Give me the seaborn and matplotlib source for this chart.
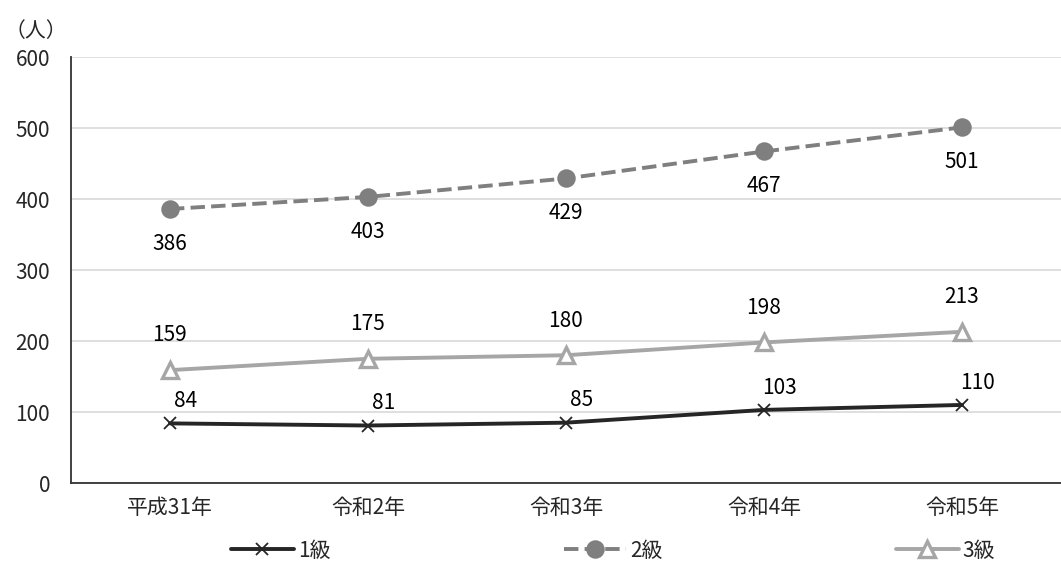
import pandas as pd
import seaborn as sns
import matplotlib.pyplot as plt

# data
years = ['平成31年', '令和2年', '令和3年', '令和4年', '令和5年']
grade1 = [84, 81, 85, 103, 110]
grade2 = [386, 403, 429, 467, 501]
grade3 = [159, 175, 180, 198, 213]
yticks = [0, 100, 200, 300, 400, 500, 600]

sns.set_style('white')
plt.rcParams['font.family'] = ['Noto Sans CJK JP', 'DejaVu Sans']

df = pd.DataFrame({'pos': range(len(years)), '1級': grade1, '2級': grade2, '3級': grade3})

fig = plt.figure(figsize=(10.61, 5.66), dpi=100)
ax = fig.add_axes([0.0669, 0.1466, 0.9331, 0.7526])

FS = 15

# series styles: (column, colour, marker, linestyle, face colour, marker size, label offset)
styles = [
    ('1級', '#262626', 'x', '-', '#262626', 9, (11, 16)),
    ('2級', '#7f7f7f', 'o', '--', '#7f7f7f', 12, (0, -25)),
    ('3級', '#a6a6a6', '^', '-', 'white', 11, (0, 25)),
]

for col, color, marker, ls, mfc, ms, off in styles:
    sns.lineplot(data=df, x='pos', y=col, ax=ax, color=color, linewidth=2.8,
                 linestyle=ls, marker=marker, markersize=ms,
                 markerfacecolor=mfc, markeredgecolor=color,
                 markeredgewidth=2.4 if marker == '^' else 1.3, label=col)
    for x, y in zip(df['pos'], df[col]):
        ax.annotate(str(y), (x, y), xytext=off, textcoords='offset points',
                    ha='center', va='center', fontsize=FS, color='black')

ax.set_xlim(-0.5, 4.5)
ax.set_ylim(0, 600)
ax.set_yticks(yticks)
ax.set_yticklabels([str(t) for t in yticks], fontsize=FS)
ax.yaxis.grid(True, color='#d9d9d9', linewidth=1.2)
ax.set_axisbelow(True)

# boundary ticks between categories, labels at centres
ax.set_xticks([i + 0.5 for i in range(len(years) - 1)])
ax.set_xticklabels([])
ax.set_xticks(range(len(years)), minor=True)
ax.set_xticklabels(years, minor=True, fontsize=FS)
ax.tick_params(axis='x', which='major', direction='in', length=6, color='#333333')
ax.tick_params(axis='x', which='minor', length=0, pad=10)
ax.tick_params(axis='y', direction='in', length=6, color='#333333', pad=15)

ax.set_xlabel('')
ax.set_ylabel('')
for side in ['top', 'right']:
    ax.spines[side].set_visible(False)
for side in ['left', 'bottom']:
    ax.spines[side].set_color('#333333')
    ax.spines[side].set_linewidth(1.3)

fig.text(0.004, 0.945, '（人）', fontsize=FS, ha='left', va='center')

handles, labels = ax.get_legend_handles_labels()
ax.get_legend().remove()
fig.legend(handles, labels, loc='center', bbox_to_anchor=(0.578, 0.027), ncol=3,
           frameon=False, fontsize=FS, handlelength=3.0, columnspacing=11.2,
           handletextpad=0.2, borderpad=0)

fig.savefig('out.png', dpi=100)
